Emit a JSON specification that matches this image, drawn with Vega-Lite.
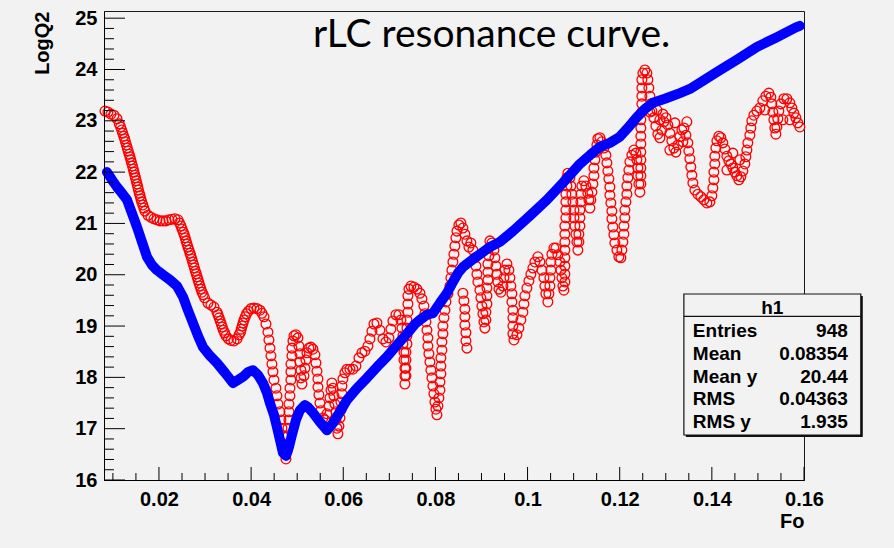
{
  "$schema": "https://vega.github.io/schema/vega-lite/v6.json",
  "width": 700,
  "height": 469,
  "autosize": {"type": "none"},
  "padding": {"left": 104, "top": 11, "right": 90, "bottom": 68},
  "background": "#f2f2f2",
  "config": {"view": {"fill": "#f2f2f2", "stroke": "#1a1a1a", "strokeWidth": 1}},
  "datasets": {
    "red": [
      {"Fo":0.00828,"LogQ2":23.19},{"Fo":0.00893,"LogQ2":23.17},{"Fo":0.00958,"LogQ2":23.13},{"Fo":0.01024,"LogQ2":23.11},{"Fo":0.01089,"LogQ2":23.04},
      {"Fo":0.01139,"LogQ2":22.94},{"Fo":0.01167,"LogQ2":22.88},{"Fo":0.01191,"LogQ2":22.82},{"Fo":0.01212,"LogQ2":22.76},{"Fo":0.01234,"LogQ2":22.70},
      {"Fo":0.01254,"LogQ2":22.65},{"Fo":0.01273,"LogQ2":22.59},{"Fo":0.01293,"LogQ2":22.53},{"Fo":0.01312,"LogQ2":22.47},{"Fo":0.01332,"LogQ2":22.41},
      {"Fo":0.01351,"LogQ2":22.35},{"Fo":0.01371,"LogQ2":22.30},{"Fo":0.01388,"LogQ2":22.24},{"Fo":0.01405,"LogQ2":22.18},{"Fo":0.01425,"LogQ2":22.12},
      {"Fo":0.01442,"LogQ2":22.06},{"Fo":0.01458,"LogQ2":22.00},{"Fo":0.01475,"LogQ2":21.94},{"Fo":0.0149,"LogQ2":21.89},{"Fo":0.01507,"LogQ2":21.83},
      {"Fo":0.01523,"LogQ2":21.77},{"Fo":0.0154,"LogQ2":21.71},{"Fo":0.01555,"LogQ2":21.65},{"Fo":0.01573,"LogQ2":21.59},{"Fo":0.0159,"LogQ2":21.54},
      {"Fo":0.01607,"LogQ2":21.48},{"Fo":0.01625,"LogQ2":21.42},{"Fo":0.01649,"LogQ2":21.36},{"Fo":0.01672,"LogQ2":21.30},{"Fo":0.01696,"LogQ2":21.24},
      {"Fo":0.01761,"LogQ2":21.16},{"Fo":0.01826,"LogQ2":21.12},{"Fo":0.01892,"LogQ2":21.09},{"Fo":0.01957,"LogQ2":21.07},{"Fo":0.02022,"LogQ2":21.05},
      {"Fo":0.02087,"LogQ2":21.05},{"Fo":0.02152,"LogQ2":21.05},{"Fo":0.02217,"LogQ2":21.07},{"Fo":0.02282,"LogQ2":21.08},{"Fo":0.02347,"LogQ2":21.09},
      {"Fo":0.02412,"LogQ2":21.07},{"Fo":0.02445,"LogQ2":21.01},{"Fo":0.02477,"LogQ2":20.95},{"Fo":0.02501,"LogQ2":20.89},{"Fo":0.02527,"LogQ2":20.83},
      {"Fo":0.02549,"LogQ2":20.78},{"Fo":0.02569,"LogQ2":20.72},{"Fo":0.02588,"LogQ2":20.66},{"Fo":0.02608,"LogQ2":20.60},{"Fo":0.02629,"LogQ2":20.54},
      {"Fo":0.02651,"LogQ2":20.48},{"Fo":0.02673,"LogQ2":20.42},{"Fo":0.02692,"LogQ2":20.37},{"Fo":0.02712,"LogQ2":20.31},{"Fo":0.02731,"LogQ2":20.25},
      {"Fo":0.02751,"LogQ2":20.19},{"Fo":0.0277,"LogQ2":20.13},{"Fo":0.0279,"LogQ2":20.07},{"Fo":0.02809,"LogQ2":20.02},{"Fo":0.02829,"LogQ2":19.96},
      {"Fo":0.02848,"LogQ2":19.90},{"Fo":0.02868,"LogQ2":19.84},{"Fo":0.0289,"LogQ2":19.78},{"Fo":0.02911,"LogQ2":19.72},{"Fo":0.02933,"LogQ2":19.66},
      {"Fo":0.02961,"LogQ2":19.61},{"Fo":0.0299,"LogQ2":19.55},{"Fo":0.03063,"LogQ2":19.45},{"Fo":0.03128,"LogQ2":19.41},{"Fo":0.03194,"LogQ2":19.37},
      {"Fo":0.03259,"LogQ2":19.27},{"Fo":0.03282,"LogQ2":19.22},{"Fo":0.03306,"LogQ2":19.16},{"Fo":0.0333,"LogQ2":19.10},{"Fo":0.03352,"LogQ2":19.04},
      {"Fo":0.03374,"LogQ2":18.98},{"Fo":0.03395,"LogQ2":18.92},{"Fo":0.03424,"LogQ2":18.87},{"Fo":0.03454,"LogQ2":18.81},{"Fo":0.03508,"LogQ2":18.75},
      {"Fo":0.03562,"LogQ2":18.72},{"Fo":0.03628,"LogQ2":18.71},{"Fo":0.03693,"LogQ2":18.75},{"Fo":0.03738,"LogQ2":18.83},{"Fo":0.03771,"LogQ2":18.88},
      {"Fo":0.03786,"LogQ2":18.94},{"Fo":0.03805,"LogQ2":19.00},{"Fo":0.03825,"LogQ2":19.06},{"Fo":0.03845,"LogQ2":19.12},{"Fo":0.03873,"LogQ2":19.18},
      {"Fo":0.03901,"LogQ2":19.24},{"Fo":0.03942,"LogQ2":19.29},{"Fo":0.03996,"LogQ2":19.34},{"Fo":0.04062,"LogQ2":19.35},{"Fo":0.04127,"LogQ2":19.34},
      {"Fo":0.04192,"LogQ2":19.31},{"Fo":0.04235,"LogQ2":19.25},{"Fo":0.04279,"LogQ2":19.18},{"Fo":0.04322,"LogQ2":19.04},{"Fo":0.04365,"LogQ2":18.88},
      {"Fo":0.04387,"LogQ2":18.73},{"Fo":0.04409,"LogQ2":18.57},{"Fo":0.0443,"LogQ2":18.42},{"Fo":0.04452,"LogQ2":18.26},{"Fo":0.04474,"LogQ2":18.11},
      {"Fo":0.04496,"LogQ2":17.95},{"Fo":0.04539,"LogQ2":17.79},{"Fo":0.04561,"LogQ2":17.64},{"Fo":0.04582,"LogQ2":17.48},{"Fo":0.04626,"LogQ2":17.33},
      {"Fo":0.04647,"LogQ2":17.17},{"Fo":0.04669,"LogQ2":17.01},{"Fo":0.04691,"LogQ2":16.86},{"Fo":0.04713,"LogQ2":16.70},{"Fo":0.04734,"LogQ2":16.55},
      {"Fo":0.04756,"LogQ2":16.41},{"Fo":0.04778,"LogQ2":16.55},{"Fo":0.04799,"LogQ2":16.70},{"Fo":0.04799,"LogQ2":16.86},{"Fo":0.04799,"LogQ2":17.01},
      {"Fo":0.04821,"LogQ2":17.17},{"Fo":0.04821,"LogQ2":17.33},{"Fo":0.04821,"LogQ2":17.48},{"Fo":0.04843,"LogQ2":17.64},{"Fo":0.04843,"LogQ2":17.79},
      {"Fo":0.04864,"LogQ2":17.95},{"Fo":0.04864,"LogQ2":18.11},{"Fo":0.04864,"LogQ2":18.26},{"Fo":0.04886,"LogQ2":18.42},{"Fo":0.04886,"LogQ2":18.57},
      {"Fo":0.04908,"LogQ2":18.71},{"Fo":0.0493,"LogQ2":18.81},{"Fo":0.04973,"LogQ2":18.83},{"Fo":0.05016,"LogQ2":18.77},{"Fo":0.05038,"LogQ2":18.61},
      {"Fo":0.0506,"LogQ2":18.46},{"Fo":0.0506,"LogQ2":18.30},{"Fo":0.05081,"LogQ2":18.14},{"Fo":0.05081,"LogQ2":17.99},{"Fo":0.05103,"LogQ2":17.87},
      {"Fo":0.05147,"LogQ2":18.03},{"Fo":0.05168,"LogQ2":18.18},{"Fo":0.0519,"LogQ2":18.34},{"Fo":0.05212,"LogQ2":18.48},{"Fo":0.05255,"LogQ2":18.57},
      {"Fo":0.05298,"LogQ2":18.59},{"Fo":0.05342,"LogQ2":18.55},{"Fo":0.05385,"LogQ2":18.44},{"Fo":0.05407,"LogQ2":18.28},{"Fo":0.05429,"LogQ2":18.12},
      {"Fo":0.0545,"LogQ2":17.97},{"Fo":0.0545,"LogQ2":17.81},{"Fo":0.05472,"LogQ2":17.66},{"Fo":0.05494,"LogQ2":17.50},{"Fo":0.05515,"LogQ2":17.35},
      {"Fo":0.05559,"LogQ2":17.21},{"Fo":0.05602,"LogQ2":17.17},{"Fo":0.05646,"LogQ2":17.29},{"Fo":0.05689,"LogQ2":17.44},{"Fo":0.05711,"LogQ2":17.60},
      {"Fo":0.05732,"LogQ2":17.75},{"Fo":0.05754,"LogQ2":17.89},{"Fo":0.05776,"LogQ2":17.79},{"Fo":0.05798,"LogQ2":17.64},{"Fo":0.05819,"LogQ2":17.48},
      {"Fo":0.05841,"LogQ2":17.33},{"Fo":0.05841,"LogQ2":17.17},{"Fo":0.05863,"LogQ2":17.01},{"Fo":0.05884,"LogQ2":16.90},{"Fo":0.05906,"LogQ2":17.05},
      {"Fo":0.05928,"LogQ2":17.21},{"Fo":0.05949,"LogQ2":17.36},{"Fo":0.05949,"LogQ2":17.52},{"Fo":0.05971,"LogQ2":17.68},{"Fo":0.05971,"LogQ2":17.83},
      {"Fo":0.05993,"LogQ2":17.97},{"Fo":0.06036,"LogQ2":18.09},{"Fo":0.0608,"LogQ2":18.16},{"Fo":0.06145,"LogQ2":18.16},{"Fo":0.0621,"LogQ2":18.16},
      {"Fo":0.06275,"LogQ2":18.22},{"Fo":0.0634,"LogQ2":18.38},{"Fo":0.06405,"LogQ2":18.48},{"Fo":0.0647,"LogQ2":18.51},{"Fo":0.06535,"LogQ2":18.61},
      {"Fo":0.06579,"LogQ2":18.75},{"Fo":0.06622,"LogQ2":18.90},{"Fo":0.06666,"LogQ2":19.04},{"Fo":0.06731,"LogQ2":19.06},{"Fo":0.06796,"LogQ2":18.92},
      {"Fo":0.06861,"LogQ2":18.75},{"Fo":0.06926,"LogQ2":18.69},{"Fo":0.06991,"LogQ2":18.77},{"Fo":0.07034,"LogQ2":18.94},{"Fo":0.07078,"LogQ2":19.10},
      {"Fo":0.07143,"LogQ2":19.22},{"Fo":0.07208,"LogQ2":19.22},{"Fo":0.07251,"LogQ2":19.12},{"Fo":0.07273,"LogQ2":18.96},{"Fo":0.07295,"LogQ2":18.81},
      {"Fo":0.07295,"LogQ2":18.65},{"Fo":0.07317,"LogQ2":18.49},{"Fo":0.07317,"LogQ2":18.34},{"Fo":0.07338,"LogQ2":18.18},{"Fo":0.07338,"LogQ2":18.03},
      {"Fo":0.07338,"LogQ2":17.87},{"Fo":0.0736,"LogQ2":18.03},{"Fo":0.0736,"LogQ2":18.18},{"Fo":0.0736,"LogQ2":18.34},{"Fo":0.0736,"LogQ2":18.49},
      {"Fo":0.07382,"LogQ2":18.65},{"Fo":0.07382,"LogQ2":18.81},{"Fo":0.07382,"LogQ2":18.96},{"Fo":0.07382,"LogQ2":19.12},{"Fo":0.07403,"LogQ2":19.27},
      {"Fo":0.07403,"LogQ2":19.43},{"Fo":0.07403,"LogQ2":19.59},{"Fo":0.07425,"LogQ2":19.72},{"Fo":0.07468,"LogQ2":19.78},{"Fo":0.07534,"LogQ2":19.76},
      {"Fo":0.07599,"LogQ2":19.72},{"Fo":0.07664,"LogQ2":19.64},{"Fo":0.07707,"LogQ2":19.53},{"Fo":0.07751,"LogQ2":19.39},{"Fo":0.07772,"LogQ2":19.24},
      {"Fo":0.07794,"LogQ2":19.08},{"Fo":0.07816,"LogQ2":18.92},{"Fo":0.07837,"LogQ2":18.77},{"Fo":0.07837,"LogQ2":18.61},{"Fo":0.07859,"LogQ2":18.46},
      {"Fo":0.07881,"LogQ2":18.30},{"Fo":0.07902,"LogQ2":18.14},{"Fo":0.07924,"LogQ2":17.99},{"Fo":0.07946,"LogQ2":17.83},{"Fo":0.07968,"LogQ2":17.68},
      {"Fo":0.07989,"LogQ2":17.52},{"Fo":0.08011,"LogQ2":17.38},{"Fo":0.08033,"LogQ2":17.27},{"Fo":0.08054,"LogQ2":17.44},{"Fo":0.08076,"LogQ2":17.60},
      {"Fo":0.08098,"LogQ2":17.75},{"Fo":0.08098,"LogQ2":17.91},{"Fo":0.08119,"LogQ2":18.07},{"Fo":0.08119,"LogQ2":18.22},{"Fo":0.08119,"LogQ2":18.38},
      {"Fo":0.08141,"LogQ2":18.53},{"Fo":0.08141,"LogQ2":18.69},{"Fo":0.08163,"LogQ2":18.85},{"Fo":0.08163,"LogQ2":19.00},{"Fo":0.08185,"LogQ2":19.16},
      {"Fo":0.08206,"LogQ2":19.31},{"Fo":0.08228,"LogQ2":19.47},{"Fo":0.08271,"LogQ2":19.63},{"Fo":0.08315,"LogQ2":19.78},{"Fo":0.08336,"LogQ2":19.94},
      {"Fo":0.08358,"LogQ2":20.09},{"Fo":0.0838,"LogQ2":20.25},{"Fo":0.08402,"LogQ2":20.40},{"Fo":0.08423,"LogQ2":20.56},{"Fo":0.08445,"LogQ2":20.72},
      {"Fo":0.08467,"LogQ2":20.85},{"Fo":0.0851,"LogQ2":20.97},{"Fo":0.08553,"LogQ2":21.01},{"Fo":0.08597,"LogQ2":20.91},{"Fo":0.0864,"LogQ2":20.79},
      {"Fo":0.08684,"LogQ2":20.66},{"Fo":0.08727,"LogQ2":20.54},{"Fo":0.08597,"LogQ2":19.64},{"Fo":0.08619,"LogQ2":19.49},{"Fo":0.0864,"LogQ2":19.33},
      {"Fo":0.0864,"LogQ2":19.18},{"Fo":0.0864,"LogQ2":19.02},{"Fo":0.08662,"LogQ2":18.87},{"Fo":0.08662,"LogQ2":18.71},{"Fo":0.08684,"LogQ2":18.57},
      {"Fo":0.0877,"LogQ2":20.62},{"Fo":0.08814,"LogQ2":20.48},{"Fo":0.08857,"LogQ2":20.33},{"Fo":0.08879,"LogQ2":20.17},{"Fo":0.08901,"LogQ2":20.01},
      {"Fo":0.08922,"LogQ2":19.86},{"Fo":0.08966,"LogQ2":19.70},{"Fo":0.08987,"LogQ2":19.55},{"Fo":0.09009,"LogQ2":19.39},{"Fo":0.09031,"LogQ2":19.24},
      {"Fo":0.09053,"LogQ2":19.08},{"Fo":0.09074,"LogQ2":18.96},{"Fo":0.09096,"LogQ2":19.12},{"Fo":0.09096,"LogQ2":19.27},{"Fo":0.09118,"LogQ2":19.43},
      {"Fo":0.09118,"LogQ2":19.59},{"Fo":0.09118,"LogQ2":19.74},{"Fo":0.09139,"LogQ2":19.90},{"Fo":0.09139,"LogQ2":20.05},{"Fo":0.09139,"LogQ2":20.21},
      {"Fo":0.09161,"LogQ2":20.37},{"Fo":0.09161,"LogQ2":20.52},{"Fo":0.09183,"LogQ2":20.66},{"Fo":0.09226,"LogQ2":20.62},{"Fo":0.0927,"LogQ2":20.48},
      {"Fo":0.09291,"LogQ2":20.33},{"Fo":0.09313,"LogQ2":20.17},{"Fo":0.09335,"LogQ2":20.01},{"Fo":0.09356,"LogQ2":19.86},{"Fo":0.09378,"LogQ2":19.72},
      {"Fo":0.09421,"LogQ2":19.66},{"Fo":0.09465,"LogQ2":19.78},{"Fo":0.09487,"LogQ2":19.94},{"Fo":0.09508,"LogQ2":20.09},{"Fo":0.09552,"LogQ2":20.21},
      {"Fo":0.09595,"LogQ2":20.09},{"Fo":0.09617,"LogQ2":19.94},{"Fo":0.09638,"LogQ2":19.78},{"Fo":0.0966,"LogQ2":19.63},{"Fo":0.0966,"LogQ2":19.47},
      {"Fo":0.09682,"LogQ2":19.31},{"Fo":0.09682,"LogQ2":19.16},{"Fo":0.09682,"LogQ2":19.00},{"Fo":0.09682,"LogQ2":18.85},{"Fo":0.09704,"LogQ2":18.73},
      {"Fo":0.09769,"LogQ2":18.83},{"Fo":0.09812,"LogQ2":18.96},{"Fo":0.09855,"LogQ2":19.12},{"Fo":0.09899,"LogQ2":19.27},{"Fo":0.09921,"LogQ2":19.43},
      {"Fo":0.09942,"LogQ2":19.59},{"Fo":0.09986,"LogQ2":19.74},{"Fo":0.10029,"LogQ2":19.88},{"Fo":0.10072,"LogQ2":20.01},{"Fo":0.10116,"LogQ2":20.13},
      {"Fo":0.10159,"LogQ2":20.25},{"Fo":0.10224,"LogQ2":20.35},{"Fo":0.10268,"LogQ2":20.25},{"Fo":0.10311,"LogQ2":20.09},{"Fo":0.10355,"LogQ2":19.94},
      {"Fo":0.10376,"LogQ2":19.78},{"Fo":0.10398,"LogQ2":19.63},{"Fo":0.10441,"LogQ2":19.47},{"Fo":0.10463,"LogQ2":19.63},{"Fo":0.10485,"LogQ2":19.78},
      {"Fo":0.10485,"LogQ2":19.94},{"Fo":0.10506,"LogQ2":20.09},{"Fo":0.10506,"LogQ2":20.25},{"Fo":0.10528,"LogQ2":20.40},{"Fo":0.10572,"LogQ2":20.52},
      {"Fo":0.10615,"LogQ2":20.52},{"Fo":0.10658,"LogQ2":20.39},{"Fo":0.10702,"LogQ2":20.25},{"Fo":0.10723,"LogQ2":20.09},{"Fo":0.10745,"LogQ2":19.94},
      {"Fo":0.10767,"LogQ2":19.78},{"Fo":0.10789,"LogQ2":19.70},{"Fo":0.1081,"LogQ2":19.86},{"Fo":0.1081,"LogQ2":20.01},{"Fo":0.1081,"LogQ2":20.17},
      {"Fo":0.1081,"LogQ2":20.33},{"Fo":0.1081,"LogQ2":20.48},{"Fo":0.1081,"LogQ2":20.64},{"Fo":0.1081,"LogQ2":20.79},{"Fo":0.1081,"LogQ2":20.95},
      {"Fo":0.10832,"LogQ2":21.11},{"Fo":0.10832,"LogQ2":21.26},{"Fo":0.10832,"LogQ2":21.42},{"Fo":0.10832,"LogQ2":21.57},{"Fo":0.10854,"LogQ2":21.73},
      {"Fo":0.10854,"LogQ2":21.89},{"Fo":0.10875,"LogQ2":21.98},{"Fo":0.10919,"LogQ2":21.89},{"Fo":0.1094,"LogQ2":21.73},{"Fo":0.10962,"LogQ2":21.57},
      {"Fo":0.10984,"LogQ2":21.42},{"Fo":0.11006,"LogQ2":21.26},{"Fo":0.11006,"LogQ2":21.11},{"Fo":0.11027,"LogQ2":20.95},{"Fo":0.11049,"LogQ2":20.79},
      {"Fo":0.11071,"LogQ2":20.64},{"Fo":0.11092,"LogQ2":20.48},{"Fo":0.11114,"LogQ2":20.64},{"Fo":0.11114,"LogQ2":20.79},{"Fo":0.11136,"LogQ2":20.95},
      {"Fo":0.11136,"LogQ2":21.11},{"Fo":0.11136,"LogQ2":21.26},{"Fo":0.11157,"LogQ2":21.42},{"Fo":0.11157,"LogQ2":21.57},{"Fo":0.11179,"LogQ2":21.73},
      {"Fo":0.11223,"LogQ2":21.83},{"Fo":0.11266,"LogQ2":21.73},{"Fo":0.11309,"LogQ2":21.59},{"Fo":0.11331,"LogQ2":21.46},{"Fo":0.11353,"LogQ2":21.30},
      {"Fo":0.11374,"LogQ2":21.46},{"Fo":0.11396,"LogQ2":21.61},{"Fo":0.11418,"LogQ2":21.77},{"Fo":0.1144,"LogQ2":21.93},{"Fo":0.1144,"LogQ2":22.08},
      {"Fo":0.11461,"LogQ2":22.24},{"Fo":0.11483,"LogQ2":22.39},{"Fo":0.11505,"LogQ2":22.53},{"Fo":0.11526,"LogQ2":22.65},{"Fo":0.1157,"LogQ2":22.67},
      {"Fo":0.11613,"LogQ2":22.59},{"Fo":0.11657,"LogQ2":22.47},{"Fo":0.117,"LogQ2":22.33},{"Fo":0.11722,"LogQ2":22.18},{"Fo":0.11743,"LogQ2":22.02},
      {"Fo":0.11765,"LogQ2":21.87},{"Fo":0.11787,"LogQ2":21.71},{"Fo":0.11787,"LogQ2":21.55},{"Fo":0.11808,"LogQ2":21.40},{"Fo":0.1183,"LogQ2":21.24},
      {"Fo":0.1183,"LogQ2":21.09},{"Fo":0.11852,"LogQ2":20.93},{"Fo":0.11874,"LogQ2":20.78},{"Fo":0.11895,"LogQ2":20.62},{"Fo":0.11939,"LogQ2":20.48},
      {"Fo":0.11982,"LogQ2":20.35},{"Fo":0.12025,"LogQ2":20.33},{"Fo":0.12047,"LogQ2":20.48},{"Fo":0.12069,"LogQ2":20.64},{"Fo":0.12091,"LogQ2":20.79},
      {"Fo":0.12091,"LogQ2":20.95},{"Fo":0.12112,"LogQ2":21.11},{"Fo":0.12112,"LogQ2":21.26},{"Fo":0.12134,"LogQ2":21.42},{"Fo":0.12156,"LogQ2":21.57},
      {"Fo":0.12156,"LogQ2":21.73},{"Fo":0.12177,"LogQ2":21.89},{"Fo":0.12199,"LogQ2":22.04},{"Fo":0.12221,"LogQ2":22.20},{"Fo":0.12264,"LogQ2":22.33},
      {"Fo":0.12308,"LogQ2":22.43},{"Fo":0.12351,"LogQ2":22.37},{"Fo":0.12373,"LogQ2":22.24},{"Fo":0.12394,"LogQ2":22.08},{"Fo":0.12394,"LogQ2":21.93},
      {"Fo":0.12416,"LogQ2":21.77},{"Fo":0.12438,"LogQ2":21.61},{"Fo":0.12459,"LogQ2":21.77},{"Fo":0.12459,"LogQ2":21.93},{"Fo":0.12459,"LogQ2":22.08},
      {"Fo":0.12459,"LogQ2":22.24},{"Fo":0.12459,"LogQ2":22.39},{"Fo":0.12459,"LogQ2":22.55},{"Fo":0.12459,"LogQ2":22.70},{"Fo":0.12459,"LogQ2":22.86},
      {"Fo":0.12459,"LogQ2":23.02},{"Fo":0.12481,"LogQ2":23.17},{"Fo":0.12481,"LogQ2":23.33},{"Fo":0.12481,"LogQ2":23.48},{"Fo":0.12481,"LogQ2":23.64},
      {"Fo":0.12481,"LogQ2":23.80},{"Fo":0.12503,"LogQ2":23.93},{"Fo":0.12546,"LogQ2":23.99},{"Fo":0.1259,"LogQ2":23.93},{"Fo":0.12611,"LogQ2":23.80},
      {"Fo":0.12633,"LogQ2":23.64},{"Fo":0.12655,"LogQ2":23.48},{"Fo":0.12676,"LogQ2":23.33},{"Fo":0.12698,"LogQ2":23.19},{"Fo":0.12742,"LogQ2":23.06},
      {"Fo":0.12785,"LogQ2":22.90},{"Fo":0.12828,"LogQ2":22.74},{"Fo":0.12872,"LogQ2":22.67},{"Fo":0.12915,"LogQ2":22.82},{"Fo":0.12959,"LogQ2":22.98},
      {"Fo":0.13002,"LogQ2":23.06},{"Fo":0.13045,"LogQ2":22.92},{"Fo":0.13089,"LogQ2":22.76},{"Fo":0.13132,"LogQ2":22.61},{"Fo":0.13176,"LogQ2":22.47},
      {"Fo":0.13219,"LogQ2":22.39},{"Fo":0.13262,"LogQ2":22.53},{"Fo":0.13306,"LogQ2":22.69},{"Fo":0.13349,"LogQ2":22.82},{"Fo":0.13393,"LogQ2":22.86},
      {"Fo":0.13436,"LogQ2":22.72},{"Fo":0.13479,"LogQ2":22.57},{"Fo":0.13501,"LogQ2":22.41},{"Fo":0.13523,"LogQ2":22.26},{"Fo":0.13544,"LogQ2":22.10},
      {"Fo":0.13566,"LogQ2":21.94},{"Fo":0.13588,"LogQ2":21.79},{"Fo":0.13631,"LogQ2":21.65},{"Fo":0.13696,"LogQ2":21.57},{"Fo":0.13761,"LogQ2":21.52},
      {"Fo":0.13827,"LogQ2":21.46},{"Fo":0.13892,"LogQ2":21.40},{"Fo":0.13957,"LogQ2":21.42},{"Fo":0.14,"LogQ2":21.54},{"Fo":0.14022,"LogQ2":21.69},
      {"Fo":0.14044,"LogQ2":21.85},{"Fo":0.14044,"LogQ2":22.00},{"Fo":0.14065,"LogQ2":22.16},{"Fo":0.14065,"LogQ2":22.31},{"Fo":0.14087,"LogQ2":22.47},
      {"Fo":0.14109,"LogQ2":22.61},{"Fo":0.14152,"LogQ2":22.70},{"Fo":0.14195,"LogQ2":22.67},{"Fo":0.14239,"LogQ2":22.57},{"Fo":0.14282,"LogQ2":22.45},
      {"Fo":0.14326,"LogQ2":22.31},{"Fo":0.14369,"LogQ2":22.22},{"Fo":0.14412,"LogQ2":22.16},{"Fo":0.14456,"LogQ2":22.08},{"Fo":0.14499,"LogQ2":22.00},
      {"Fo":0.14543,"LogQ2":21.93},{"Fo":0.14586,"LogQ2":21.85},{"Fo":0.14629,"LogQ2":21.91},{"Fo":0.14673,"LogQ2":22.02},{"Fo":0.14716,"LogQ2":22.16},
      {"Fo":0.14738,"LogQ2":22.30},{"Fo":0.1476,"LogQ2":22.43},{"Fo":0.14781,"LogQ2":22.57},{"Fo":0.14825,"LogQ2":22.72},{"Fo":0.14846,"LogQ2":22.86},
      {"Fo":0.14868,"LogQ2":23.00},{"Fo":0.14912,"LogQ2":23.11},{"Fo":0.14977,"LogQ2":23.19},{"Fo":0.15042,"LogQ2":23.25},{"Fo":0.15107,"LogQ2":23.39},
      {"Fo":0.15172,"LogQ2":23.48},{"Fo":0.15237,"LogQ2":23.54},{"Fo":0.1528,"LogQ2":23.46},{"Fo":0.15302,"LogQ2":23.33},{"Fo":0.15324,"LogQ2":23.17},
      {"Fo":0.15346,"LogQ2":23.02},{"Fo":0.15367,"LogQ2":22.86},{"Fo":0.15389,"LogQ2":22.74},{"Fo":0.15411,"LogQ2":22.88},{"Fo":0.15432,"LogQ2":23.04},
      {"Fo":0.15454,"LogQ2":23.19},{"Fo":0.15497,"LogQ2":23.33},{"Fo":0.15563,"LogQ2":23.43},{"Fo":0.15628,"LogQ2":23.43},{"Fo":0.15693,"LogQ2":23.35},
      {"Fo":0.15736,"LogQ2":23.25},{"Fo":0.1578,"LogQ2":23.15},{"Fo":0.15823,"LogQ2":23.06},{"Fo":0.15866,"LogQ2":22.96},{"Fo":0.1591,"LogQ2":22.88},
      {"Fo":0.12655,"LogQ2":23.17},{"Fo":0.12807,"LogQ2":23.21},{"Fo":0.12937,"LogQ2":23.13},{"Fo":0.13197,"LogQ2":22.96},{"Fo":0.13371,"LogQ2":22.59},
      {"Fo":0.13458,"LogQ2":22.98},{"Fo":0.13089,"LogQ2":22.43},{"Fo":0.12872,"LogQ2":23.02},{"Fo":0.14456,"LogQ2":22.37},{"Fo":0.14608,"LogQ2":22.24},
      {"Fo":0.14326,"LogQ2":22.04},{"Fo":0.15541,"LogQ2":23.02},{"Fo":0.15693,"LogQ2":23.02},{"Fo":0.1515,"LogQ2":23.21}
    ],
    "blue": [
      {"Fo":0.00872,"LogQ2":22.00},{"Fo":0.0098,"LogQ2":21.85},{"Fo":0.01089,"LogQ2":21.71},{"Fo":0.01197,"LogQ2":21.59},{"Fo":0.01306,"LogQ2":21.46},
      {"Fo":0.01414,"LogQ2":21.20},{"Fo":0.01523,"LogQ2":20.93},{"Fo":0.01631,"LogQ2":20.64},{"Fo":0.0174,"LogQ2":20.35},{"Fo":0.01848,"LogQ2":20.19},
      {"Fo":0.01957,"LogQ2":20.09},{"Fo":0.02087,"LogQ2":20.00},{"Fo":0.02239,"LogQ2":19.90},{"Fo":0.02391,"LogQ2":19.78},{"Fo":0.02521,"LogQ2":19.57},
      {"Fo":0.02629,"LogQ2":19.31},{"Fo":0.02738,"LogQ2":19.06},{"Fo":0.02846,"LogQ2":18.81},{"Fo":0.02955,"LogQ2":18.59},{"Fo":0.03107,"LogQ2":18.42},
      {"Fo":0.03259,"LogQ2":18.28},{"Fo":0.03432,"LogQ2":18.09},{"Fo":0.03606,"LogQ2":17.89},{"Fo":0.03714,"LogQ2":17.95},{"Fo":0.03823,"LogQ2":18.01},
      {"Fo":0.03931,"LogQ2":18.10},{"Fo":0.0404,"LogQ2":18.14},{"Fo":0.04148,"LogQ2":18.05},{"Fo":0.04257,"LogQ2":17.89},{"Fo":0.04344,"LogQ2":17.70},
      {"Fo":0.04409,"LogQ2":17.50},{"Fo":0.04496,"LogQ2":17.27},{"Fo":0.04561,"LogQ2":17.03},{"Fo":0.04626,"LogQ2":16.78},{"Fo":0.04691,"LogQ2":16.53},
      {"Fo":0.04756,"LogQ2":16.47},{"Fo":0.04821,"LogQ2":16.64},{"Fo":0.04886,"LogQ2":16.88},{"Fo":0.04973,"LogQ2":17.17},{"Fo":0.0506,"LogQ2":17.36},
      {"Fo":0.05168,"LogQ2":17.46},{"Fo":0.05233,"LogQ2":17.42},{"Fo":0.05342,"LogQ2":17.31},{"Fo":0.05494,"LogQ2":17.13},{"Fo":0.05646,"LogQ2":16.97},
      {"Fo":0.05776,"LogQ2":17.11},{"Fo":0.05928,"LogQ2":17.33},{"Fo":0.0608,"LogQ2":17.56},{"Fo":0.06297,"LogQ2":17.79},{"Fo":0.06514,"LogQ2":17.99},
      {"Fo":0.06731,"LogQ2":18.20},{"Fo":0.06948,"LogQ2":18.40},{"Fo":0.07165,"LogQ2":18.63},{"Fo":0.07382,"LogQ2":18.85},{"Fo":0.07556,"LogQ2":19.04},
      {"Fo":0.07664,"LogQ2":19.12},{"Fo":0.07816,"LogQ2":19.22},{"Fo":0.07946,"LogQ2":19.25},{"Fo":0.08098,"LogQ2":19.45},{"Fo":0.0825,"LogQ2":19.64},
      {"Fo":0.0838,"LogQ2":19.86},{"Fo":0.08488,"LogQ2":20.03},{"Fo":0.08597,"LogQ2":20.15},{"Fo":0.08857,"LogQ2":20.33},{"Fo":0.09183,"LogQ2":20.54},
      {"Fo":0.094,"LogQ2":20.64},{"Fo":0.09682,"LogQ2":20.85},{"Fo":0.10051,"LogQ2":21.15},{"Fo":0.1042,"LogQ2":21.46},{"Fo":0.10767,"LogQ2":21.79},
      {"Fo":0.11136,"LogQ2":22.16},{"Fo":0.11353,"LogQ2":22.33},{"Fo":0.1157,"LogQ2":22.49},{"Fo":0.11787,"LogQ2":22.57},{"Fo":0.12004,"LogQ2":22.69},
      {"Fo":0.12177,"LogQ2":22.86},{"Fo":0.12373,"LogQ2":23.07},{"Fo":0.12546,"LogQ2":23.23},{"Fo":0.1272,"LogQ2":23.35},{"Fo":0.1298,"LogQ2":23.43},
      {"Fo":0.13306,"LogQ2":23.54},{"Fo":0.13523,"LogQ2":23.62},{"Fo":0.1374,"LogQ2":23.74},{"Fo":0.14109,"LogQ2":23.95},{"Fo":0.14543,"LogQ2":24.19},
      {"Fo":0.14977,"LogQ2":24.44},{"Fo":0.15411,"LogQ2":24.63},{"Fo":0.15845,"LogQ2":24.83},{"Fo":0.1591,"LogQ2":24.85}
    ],
    "xMajorTicks": [{"v":0.02},{"v":0.04},{"v":0.06},{"v":0.08},{"v":0.1},{"v":0.12},{"v":0.14},{"v":0.16}],
    "xMinorTicks": [{"v":0.01},{"v":0.015},{"v":0.025},{"v":0.03},{"v":0.035},{"v":0.045},{"v":0.05},{"v":0.055},{"v":0.065},{"v":0.07},{"v":0.075},{"v":0.085},{"v":0.09},{"v":0.095},{"v":0.105},{"v":0.11},{"v":0.115},{"v":0.125},{"v":0.13},{"v":0.135},{"v":0.145},{"v":0.15},{"v":0.155}],
    "yMajorTicks": [{"v":16},{"v":17},{"v":18},{"v":19},{"v":20},{"v":21},{"v":22},{"v":23},{"v":24},{"v":25}],
    "yMinorTicks": [{"v":16.2},{"v":16.4},{"v":16.6},{"v":16.8},{"v":17.2},{"v":17.4},{"v":17.6},{"v":17.8},{"v":18.2},{"v":18.4},{"v":18.6},{"v":18.8},{"v":19.2},{"v":19.4},{"v":19.6},{"v":19.8},{"v":20.2},{"v":20.4},{"v":20.6},{"v":20.8},{"v":21.2},{"v":21.4},{"v":21.6},{"v":21.8},{"v":22.2},{"v":22.4},{"v":22.6},{"v":22.8},{"v":23.2},{"v":23.4},{"v":23.6},{"v":23.8},{"v":24.2},{"v":24.4},{"v":24.6},{"v":24.8}],
    "stats": [
      {"k": "Entries", "v": "948"},
      {"k": "Mean", "v": "0.08354"},
      {"k": "Mean y", "v": "20.44"},
      {"k": "RMS", "v": "0.04363"},
      {"k": "RMS y", "v": "1.935"}
    ]
  },
  "layer": [
    {
      "layer": [
        {
          "data": {"name": "red"},
          "mark": {"type": "point", "shape": "circle", "filled": false, "stroke": "#ff0000", "strokeWidth": 1.3, "size": 95, "opacity": 1},
          "encoding": {
            "x": {
              "field": "Fo", "type": "quantitative",
              "scale": {"domain": [0.00807, 0.16], "nice": false, "zero": false},
              "axis": {
                "orient": "bottom",
                "values": [0.02, 0.04, 0.06, 0.08, 0.1, 0.12, 0.14, 0.16],
                "format": "~g",
                "ticks": false,
                "labelPadding": 9,
                "grid": false, "labelFlush": false, "labelOverlap": false,
                "domainColor": "#000000",
                "labelFont": "Liberation Sans", "labelFontWeight": "bold", "labelFontSize": 20, "labelColor": "#000000",
                "title": "Fo", "titleFont": "Liberation Sans", "titleFontWeight": "bold", "titleFontSize": 20, "titleColor": "#000000",
                "titleAnchor": "end", "titlePadding": 2, "zindex": 1
              }
            },
            "y": {
              "field": "LogQ2", "type": "quantitative",
              "scale": {"domain": [16, 25.14], "nice": false, "zero": false},
              "axis": {
                "orient": "left",
                "values": [16, 17, 18, 19, 20, 21, 22, 23, 24, 25],
                "format": "d",
                "ticks": false,
                "labelPadding": 7,
                "grid": false, "labelFlush": false, "labelOverlap": false,
                "domainColor": "#000000",
                "labelFont": "Liberation Sans", "labelFontWeight": "bold", "labelFontSize": 20, "labelColor": "#000000",
                "title": "LogQ2", "titleFont": "Liberation Sans", "titleFontWeight": "bold", "titleFontSize": 20, "titleColor": "#000000",
                "titleAnchor": "end", "titlePadding": 22, "zindex": 1
              }
            }
          }
        },
        {
          "data": {"name": "blue"},
          "mark": {"type": "line", "color": "#0000ff", "strokeWidth": 10, "strokeJoin": "round", "strokeCap": "round"},
          "encoding": {
            "x": {"field": "Fo", "type": "quantitative", "axis": null},
            "y": {"field": "LogQ2", "type": "quantitative", "axis": null}
          }
        },
        {
          "data": {"name": "xMajorTicks"},
          "mark": {"type": "rule", "stroke": "#000000", "strokeWidth": 1},
          "encoding": {
            "x": {"field": "v", "type": "quantitative", "axis": null},
            "y": {"datum": 16, "axis": null},
            "y2": {"datum": 16.2534}
          }
        },
        {
          "data": {"name": "xMinorTicks"},
          "mark": {"type": "rule", "stroke": "#000000", "strokeWidth": 1},
          "encoding": {
            "x": {"field": "v", "type": "quantitative", "axis": null},
            "y": {"datum": 16, "axis": null},
            "y2": {"datum": 16.1365}
          }
        },
        {
          "data": {"name": "yMajorTicks"},
          "mark": {"type": "rule", "stroke": "#000000", "strokeWidth": 1},
          "encoding": {
            "y": {"field": "v", "type": "quantitative", "axis": null},
            "x": {"datum": 0.00807, "axis": null},
            "x2": {"datum": 0.01263}
          }
        },
        {
          "data": {"name": "yMinorTicks"},
          "mark": {"type": "rule", "stroke": "#000000", "strokeWidth": 1},
          "encoding": {
            "y": {"field": "v", "type": "quantitative", "axis": null},
            "x": {"datum": 0.00807, "axis": null},
            "x2": {"datum": 0.01024}
          }
        },
        {
          "data": {"values": [{"t": "rLC resonance curve."}]},
          "mark": {"type": "text", "font": "Lato", "fontSize": 39, "color": "#000000", "align": "left", "baseline": "alphabetic"},
          "encoding": {
            "x": {"datum": 0.05342, "axis": null},
            "y": {"datum": 24.44, "axis": null},
            "text": {"field": "t"}
          }
        },
        {
          "data": {"values": [{}]},
          "mark": {"type": "rect", "fill": "#111111"},
          "encoding": {
            "x": {"datum": 0.13436, "axis": null}, "x2": {"datum": 0.17276},
            "y": {"datum": 19.586, "axis": null}, "y2": {"datum": 16.838}
          }
        },
        {
          "data": {"values": [{}]},
          "mark": {"type": "rect", "fill": "#f2f2f2", "stroke": "#111111", "strokeWidth": 1.2},
          "encoding": {
            "x": {"datum": 0.13393, "axis": null}, "x2": {"datum": 0.17233},
            "y": {"datum": 19.625, "axis": null}, "y2": {"datum": 16.877}
          }
        },
        {
          "data": {"values": [{}]},
          "mark": {"type": "rule", "stroke": "#111111", "strokeWidth": 1.2},
          "encoding": {
            "x": {"datum": 0.13393, "axis": null}, "x2": {"datum": 0.17233},
            "y": {"datum": 19.19, "axis": null}
          }
        },
        {
          "data": {"values": [{"name": "h1"}]},
          "mark": {"type": "text", "font": "Liberation Sans", "fontWeight": "bold", "fontSize": 19, "color": "#000000", "align": "center", "baseline": "alphabetic"},
          "encoding": {
            "x": {"datum": 0.15313, "axis": null},
            "y": {"datum": 19.23, "axis": null},
            "text": {"field": "name"}
          }
        }
      ],
      "resolve": {"axis": {"x": "independent", "y": "independent"}}
    },
    {
      "data": {"name": "stats"},
      "mark": {"type": "text", "font": "Liberation Sans", "fontWeight": "bold", "fontSize": 19, "color": "#000000", "align": "left", "baseline": "alphabetic"},
      "encoding": {
        "x": {"datum": 0.13588, "axis": null},
        "y": {"field": "k", "type": "ordinal", "sort": null, "scale": {"type": "point", "range": [326, 417], "padding": 0}, "axis": null},
        "text": {"field": "k"}
      }
    },
    {
      "data": {"name": "stats"},
      "mark": {"type": "text", "font": "Liberation Sans", "fontWeight": "bold", "fontSize": 19, "color": "#000000", "align": "right", "baseline": "alphabetic"},
      "encoding": {
        "x": {"datum": 0.16951, "axis": null},
        "y": {"field": "k", "type": "ordinal", "sort": null, "scale": {"type": "point", "range": [326, 417], "padding": 0}, "axis": null},
        "text": {"field": "v"}
      }
    }
  ],
  "resolve": {"scale": {"y": "independent"}, "axis": {"x": "independent", "y": "independent"}}
}
